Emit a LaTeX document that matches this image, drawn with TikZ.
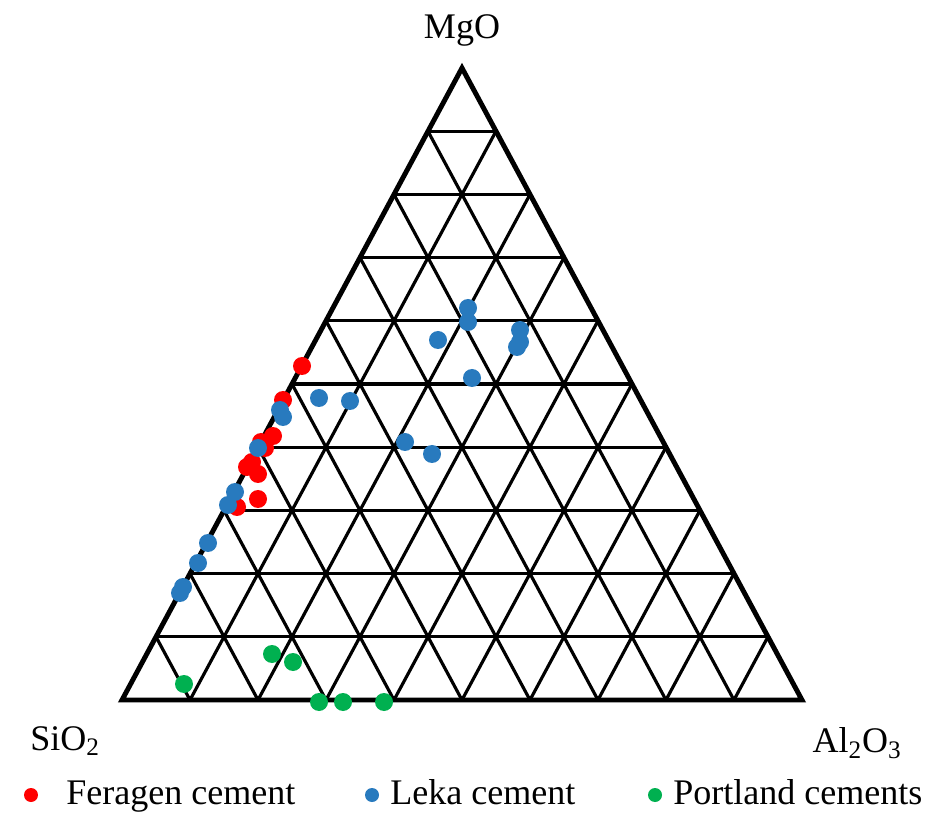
\documentclass[tikz,border=0pt]{standalone}
\usepackage{fontspec}
\setmainfont{Liberation Serif}
\usetikzlibrary{calc}
\definecolor{feragen}{RGB}{255,0,0}
\definecolor{leka}{RGB}{40,122,190}
\definecolor{portland}{RGB}{0,176,80}

\begin{document}
\begin{tikzpicture}[
    x=0.2mm,y=-0.2mm,
    frame/.style={line width=2.8pt,line join=miter},
    grid line/.style={line width=1.8pt},
    oxide/.style={font=\fontsize{20.5}{24}\selectfont,inner sep=0pt},
    sample/.style={circle,inner sep=0pt,minimum size=3.6mm,fill=#1},
    key/.style={circle,inner sep=0pt,minimum size=2.8mm,fill=#1},
    key text/.style={oxide,anchor=base west},
  ]
  \useasboundingbox (0,0) rectangle (935,817);

  \coordinate (sio2) at (122,700);
  \coordinate (al2o3) at (802,700);
  \coordinate (mgo) at (462,68);

  % grid, ten steps on every side
  \foreach \t in {0.1,0.2,...,0.95} {
    \draw[grid line] ($ (sio2) ! \t ! (mgo) $) -- ($ (al2o3) ! \t ! (mgo) $);
    \draw[grid line] ($ (sio2) ! \t ! (al2o3) $) -- ($ (mgo) ! \t ! (al2o3) $);
    \draw[grid line] ($ (sio2) ! \t ! (al2o3) $) -- ($ (sio2) ! \t ! (mgo) $);
  }
  \draw[frame] (sio2) -- (al2o3) -- (mgo) -- cycle;

  \node[oxide] (mgo-label) at (462,30) {MgO};
  \node[oxide,anchor=west] (sio2-label) at (30,741) {SiO\textsubscript{2}};
  \node[oxide,anchor=east] (al2o3-label) at (902,743) {Al\textsubscript{2}O\textsubscript{3}};

  % samples
  \foreach \x/\y [count=\i] in {302/366,283/400,273/436,261/442,265/448,252/462,
      247/467,258/474,258/499,237/507} {
    \node[sample=feragen] (feragen-\i) at (\x,\y) {};
  }
  \foreach \x/\y [count=\i] in {280/410,283/417,258/448,235/492,228/505,208/543,
      198/563,183/587,180/593,319/398,350/401,468/308,468/322,438/340,520/330,
      520/342,517/347,472/378,405/442,432/454} {
    \node[sample=leka] (leka-\i) at (\x,\y) {};
  }
  \foreach \x/\y [count=\i] in {184/684,272/654,293/662,319/702,343/702,384/702} {
    \node[sample=portland] (portland-\i) at (\x,\y) {};
  }

  % legend
  \node[key=feragen] (key-feragen) at (31,795) {};
  \node[key text] (key-feragen-text) at (66,804) {Feragen cement};
  \node[key=leka] (key-leka) at (372,795) {};
  \node[key text] (key-leka-text) at (390,804) {Leka cement};
  \node[key=portland] (key-portland) at (655,795) {};
  \node[key text] (key-portland-text) at (673,804) {Portland cements};

\end{tikzpicture}
\end{document}
